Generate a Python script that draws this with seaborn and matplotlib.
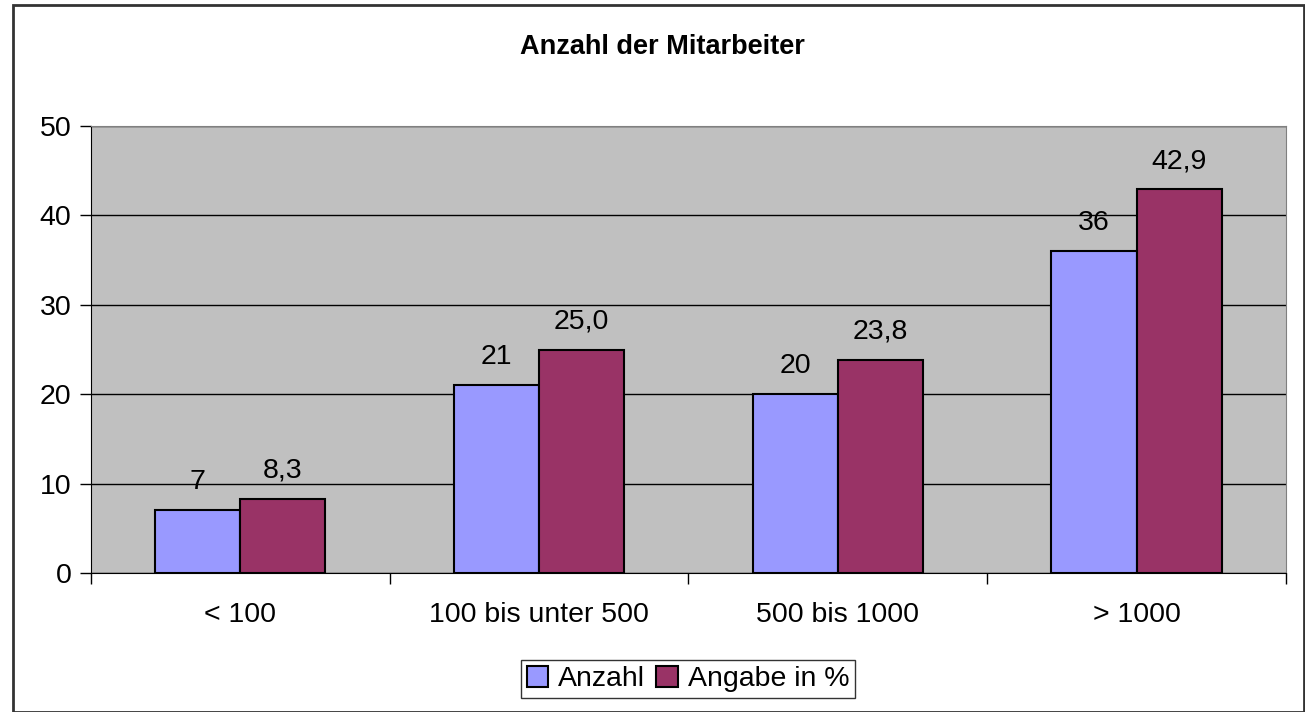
import pandas as pd
import matplotlib.pyplot as plt
import seaborn as sns
from matplotlib.patches import Rectangle

kategorien = ['< 100', '100 bis unter 500', '500 bis 1000', '> 1000']
anzahl = [7, 21, 20, 36]
prozent = [8.3, 25.0, 23.8, 42.9]
serien = ['Anzahl', 'Angabe in %']
farben = ['#9999FF', '#993366']

df = pd.DataFrame({
    'Kategorie': kategorien * 2,
    'Wert': anzahl + prozent,
    'Serie': [serien[0]] * 4 + [serien[1]] * 4,
})

sns.set_style('white')
plt.rcParams['font.family'] = ['Liberation Sans', 'DejaVu Sans']
plt.rcParams['text.color'] = 'black'
plt.rcParams['xtick.color'] = 'black'
plt.rcParams['ytick.color'] = 'black'

fig = plt.figure(figsize=(13.05, 7.12), dpi=100)
ax = fig.add_axes([0.0697, 0.1952, 0.9157, 0.6278])

sns.barplot(data=df, x='Kategorie', y='Wert', hue='Serie', order=kategorien,
            hue_order=serien, palette=farben, width=0.57, edgecolor='black',
            linewidth=1.5, saturation=1, ax=ax, zorder=3)

ax.set_facecolor('#C0C0C0')
ax.set_ylim(0, 50)
ax.set_xlim(-0.5, 3.5)
ax.set_yticks(range(0, 51, 10))
ax.grid(axis='y', color='black', linewidth=1, zorder=0)
ax.set_axisbelow(True)
ax.set_xlabel('')
ax.set_ylabel('')
ax.tick_params(axis='y', labelsize=20.5, length=8, width=1, direction='out', left=True, pad=6)
ax.tick_params(axis='x', which='major', labelsize=20.5, length=0, pad=21)
ax.set_xticks([-0.5, 0.5, 1.5, 2.5, 3.5], minor=True)
ax.tick_params(axis='x', which='minor', length=8, width=1, direction='out', bottom=True)
for s in ['top', 'right']:
    ax.spines[s].set_color('#808080')
for s in ['left', 'bottom']:
    ax.spines[s].set_color('black')

beschriftung = [[str(v) for v in anzahl], [f'{v:.1f}'.replace('.', ',') for v in prozent]]
for cont, labs in zip(ax.containers, beschriftung):
    ax.bar_label(cont, labels=labs, padding=11, fontsize=20.5)

# Titel etwas links von der Mitte, wie im Original
fig.text(662 / 1305, 1 - 47 / 712, 'Anzahl der Mitarbeiter', ha='center', va='center',
         fontsize=19.5, fontweight='bold')

leg = ax.legend(loc='center', bbox_to_anchor=(688 / 1305, 1 - 679 / 712),
                bbox_transform=fig.transFigure, ncol=2, fontsize=20.5, frameon=True,
                fancybox=False, edgecolor='black', handlelength=0.75, handleheight=0.75,
                handletextpad=0.35, columnspacing=0.4, borderpad=0.2, borderaxespad=0)
leg.get_frame().set_linewidth(1)
for h in leg.legend_handles:
    h.set_edgecolor('black')
    h.set_linewidth(1.5)

fig.patches.append(Rectangle((13 / 1305, 0), 1291 / 1305, 1 - 5 / 712,
                             transform=fig.transFigure, fill=False,
                             edgecolor='#333333', linewidth=2))

fig.savefig('out.png', dpi=100)
